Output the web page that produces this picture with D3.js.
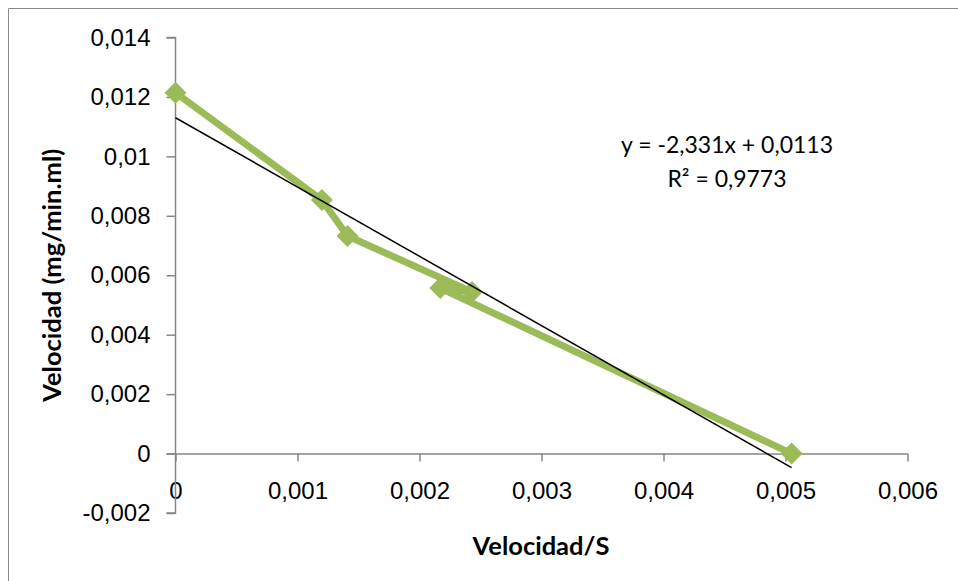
<!DOCTYPE html>
<html>
<head>
<meta charset="utf-8">
<script src="https://cdn.jsdelivr.net/npm/d3@7"></script>
<style>
  body { margin: 0; background: #fff; }
  svg { display: block; font-family: Lato, "Open Sans", sans-serif; }
</style>
</head>
<body>
<svg id="chart" width="958" height="581"></svg>
<script>
// Data (series order as plotted)
const xValues = [0, 0.0012, 0.00141, 0.00243, 0.00217, 0.00505];
const yValues = [0.01214, 0.00853, 0.00732, 0.00544, 0.00557, 0];

const xTicks = [0, 0.001, 0.002, 0.003, 0.004, 0.005, 0.006];
const yTicks = [-0.002, 0, 0.002, 0.004, 0.006, 0.008, 0.01, 0.012, 0.014];

// Linear trendline as given in the chart
const trendSlope = -2.331;
const trendIntercept = 0.0113;
const trendLabels = ["y = -2,331x + 0,0113", "R² = 0,9773"];

// comma decimals, plain hyphen for negatives
const fmt = d => String(+d.toFixed(4)).replace(".", ",");

function drawChart() {
    const svg = d3.select("#chart");

    // outer chart border (only top/left visible in the crop)
    svg.append("path")
        .attr("d", "M8.5,581 V8.5 H958")
        .attr("fill", "none")
        .attr("stroke", "#8c8c8c")
        .attr("stroke-width", 1);

    const x = d3.scaleLinear().domain([0, 0.006]).range([175.5, 907.5]);
    const y = d3.scaleLinear().domain([-0.002, 0.014]).range([513, 37.5]);

    // x axis crosses at y = 0
    const xAxis = svg.append("g")
        .attr("transform", `translate(0,${y(0)})`)
        .call(d3.axisBottom(x).tickValues(xTicks).tickSize(8).tickFormat(fmt));
    xAxis.select(".domain").attr("stroke", "#868686").attr("stroke-width", 1.5)
        .attr("d", `M${x(0) - 9},0.5H${x(0.006)}`);
    xAxis.selectAll(".tick line").attr("stroke", "#868686").attr("stroke-width", 1.5);
    xAxis.selectAll(".tick text")
        .attr("y", 37)
        .attr("dy", "0.35em")
        .attr("font-size", 24)
        .attr("fill", "#000");

    const yAxis = svg.append("g")
        .attr("transform", `translate(${x(0)},0)`)
        .call(d3.axisLeft(y).tickValues(yTicks).tickSize(9).tickFormat(fmt));
    yAxis.select(".domain").attr("stroke", "#868686").attr("stroke-width", 1.5)
        .attr("d", `M-9,${y(0.014)}H0V${y(-0.002)}H-9`);
    yAxis.selectAll(".tick line").attr("stroke", "#868686").attr("stroke-width", 1.5);
    yAxis.selectAll(".tick text")
        .attr("x", -25)
        .attr("font-size", 24)
        .attr("fill", "#000");

    // data series
    const pts = xValues.map((v, i) => [v, yValues[i]]);
    const line = d3.line().x(d => x(d[0])).y(d => y(d[1]));
    svg.append("path")
        .datum(pts)
        .attr("d", line)
        .attr("fill", "none")
        .attr("stroke", "#9bbb59")
        .attr("stroke-width", 7)
        .attr("stroke-linejoin", "round");

    svg.selectAll(".marker")
        .data(pts)
        .enter()
        .append("path")
        .attr("class", "marker")
        .attr("transform", d => `translate(${x(d[0])},${y(d[1])})`)
        .attr("d", "M0,-11L11,0L0,11L-11,0Z")
        .attr("fill", "#9bbb59");

    // trendline
    const tx = [0, d3.max(xValues)];
    svg.append("line")
        .attr("x1", x(tx[0])).attr("y1", y(trendSlope * tx[0] + trendIntercept))
        .attr("x2", x(tx[1])).attr("y2", y(trendSlope * tx[1] + trendIntercept))
        .attr("stroke", "#000")
        .attr("stroke-width", 1.5);

    svg.selectAll(".eq")
        .data(trendLabels)
        .enter()
        .append("text")
        .attr("class", "eq")
        .attr("x", 727)
        .attr("y", (d, i) => 145 + i * 34)
        .attr("dy", "0.35em")
        .attr("text-anchor", "middle")
        .attr("font-size", 23)
        .text(d => d);

    // axis titles
    svg.append("text")
        .attr("x", 541)
        .attr("y", 546)
        .attr("dy", "0.35em")
        .attr("text-anchor", "middle")
        .attr("font-size", 25.5)
        .attr("font-weight", "bold")
        .text("Velocidad/S");

    svg.append("text")
        .attr("transform", `translate(61,${(y(0.014) + y(-0.002)) / 2}) rotate(-90)`)
        .attr("text-anchor", "middle")
        .attr("font-size", 25.5)
        .attr("font-weight", "bold")
        .text("Velocidad (mg/min.ml)");
}

drawChart();
</script>
</body>
</html>
